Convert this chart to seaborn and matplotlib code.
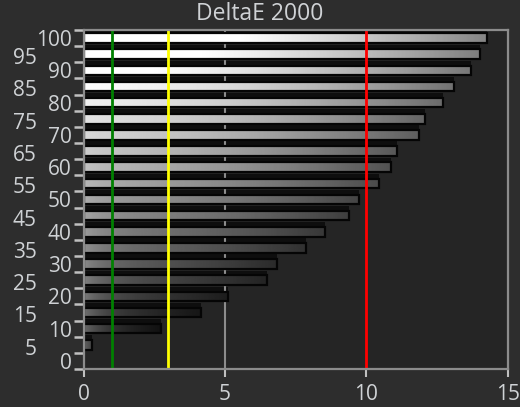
import numpy as np
import pandas as pd
import seaborn as sns
import matplotlib.pyplot as plt
import matplotlib.transforms as mtransforms

# stimulus level (%) and measured DeltaE 2000
levels = [100, 95, 90, 85, 80, 75, 70, 65, 60, 55, 50, 45, 40, 35, 30, 25, 20, 15, 10, 5, 0]
delta_e = [14.27, 14.02, 13.72, 13.10, 12.72, 12.09, 11.87, 11.08, 10.88, 10.45, 9.75,
           9.39, 8.53, 7.88, 6.83, 6.50, 5.12, 4.15, 2.73, 0.30, 0.0]
x_ticks = [0, 5, 10, 15]
ref_lines = [1, 3, 10]
ref_colors = ['#008000', '#ffff00', '#ff0000']

order = [str(l) for l in levels]
df = pd.DataFrame({'level': order, 'de': delta_e})

sns.set_theme(style='dark')
plt.rcParams['font.family'] = ['Open Sans', 'DejaVu Sans']
txt = '#cfd2d5'
edge = '#8c8c8c'

fig = plt.figure(figsize=(5.2, 4.07), dpi=100, facecolor='#2d2d2d')
ax = fig.add_axes([0.1606, 0.0934, 0.8157, 0.8329])
ax.set_facecolor('#252525')

# dark strips just above each bar
sns.barplot(data=df, x='de', y='level', order=order, color='#0e0e0e', saturation=1,
            width=0.6, linewidth=0, ax=ax, zorder=1)
for p in ax.patches:
    p.set_y(p.get_y() - 0.3)
n0 = len(ax.patches)

# the bars themselves, filled with a grey gradient
sns.barplot(data=df, x='de', y='level', order=order, color='black', saturation=1,
            width=0.6, edgecolor='#050505', linewidth=1.6, ax=ax, zorder=2.1)
t = np.linspace(0, 1, 300)
for p, lvl in zip(ax.patches[n0:], levels):
    p.set_facecolor('none')
    x0, y0, w, h = p.get_x(), p.get_y(), p.get_width(), p.get_height()
    if w <= 0:
        p.set_linewidth(0)
        continue
    frac = lvl / 100
    xs = x0 + t * w
    body = 1.15 * frac ** 0.95 * (1 - 0.55 * t ** 1.5)
    glow = 0.35 * (1 - frac) ** 2 * np.exp(-xs / 0.8)
    g = np.clip(np.clip(body, 0, 1) + glow, 0, 1)
    im = ax.imshow(g[None, :], cmap='gray', vmin=0, vmax=1, aspect='auto',
                   extent=[x0, x0 + w, y0 + h, y0], interpolation='bilinear', zorder=2)
    im.set_clip_path(p)

ax.axvline(5, color='#8c8c8c', lw=1.5, zorder=1.5)
for xv, c in zip(ref_lines, ref_colors):
    ax.axvline(xv, color=c, lw=2, zorder=3)

ax.set_xlim(0, 15)
ax.set_ylim(len(levels) - 0.5, -0.5)
ax.set_xlabel('')
ax.set_ylabel('')
ax.set_xticks(x_ticks)
ax.set_xticklabels([str(v) for v in x_ticks])
ax.set_yticks(range(len(levels)))
ax.set_yticklabels(order)
ax.set_yticks(np.arange(-0.5, len(levels), 1), minor=True)

ax.tick_params(axis='x', length=6, width=1.5, color='#c0c0c0', pad=5,
               labelsize=15, labelcolor=txt, bottom=True)
ax.tick_params(axis='y', which='major', length=0, pad=8.5, labelsize=15, labelcolor=txt)
ax.tick_params(axis='y', which='minor', length=7, width=1.8, color='#c0c0c0', left=True)

shift = mtransforms.ScaledTranslation(-0.35, -0.02, fig.dpi_scale_trans)
for lab, lvl in zip(ax.get_yticklabels(), levels):
    if lvl % 10:
        lab.set_transform(lab.get_transform() + shift)

for s in ax.spines.values():
    s.set_visible(True)
    s.set_color(edge)
    s.set_linewidth(1.6)
    s.set_zorder(4)

fig.text(0.5, 1 - 14 / 407, 'DeltaE 2000', ha='center', va='center', color=txt, fontsize=16.5)

fig.savefig('out.png', dpi=100, facecolor=fig.get_facecolor())
